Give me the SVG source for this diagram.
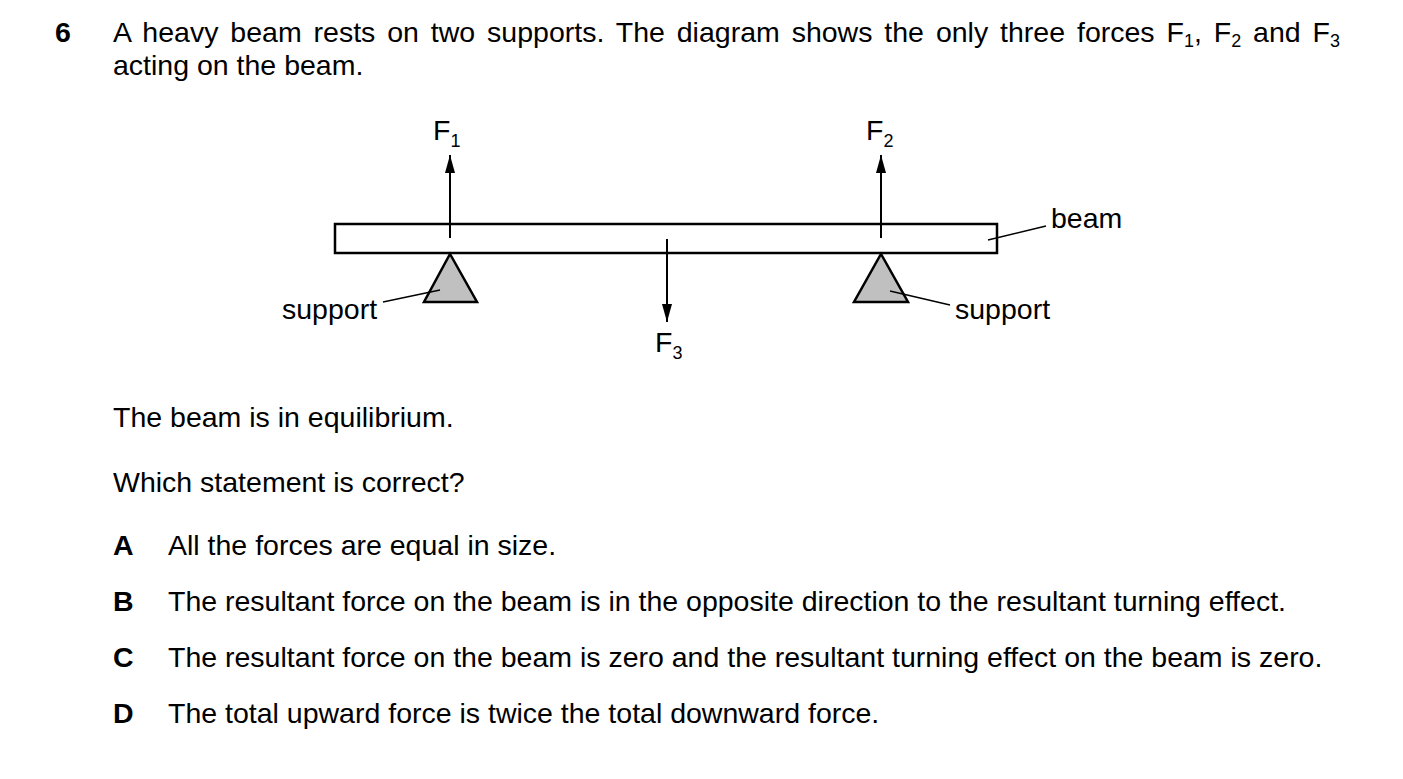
<svg xmlns="http://www.w3.org/2000/svg" width="1403" height="779" viewBox="0 0 1403 779">
<style>
text{font-family:"Liberation Sans",Arial,sans-serif;font-size:28.5px;fill:#000}
.b{font-weight:bold}
.s{font-size:18px}
.ln{stroke:#000;stroke-width:1.5;fill:none}
.ar{stroke:#000;stroke-width:2;fill:none}
.sup{fill:#c0c0c0;stroke:#000;stroke-width:2.5}
</style>
<defs><marker id="ah" markerWidth="19" markerHeight="10" refX="18" refY="5" orient="auto" markerUnits="userSpaceOnUse" viewBox="0 0 19 10"><path d="M0,0 L18,5 L0,10 Z" fill="#000"/></marker></defs>
<rect width="1403" height="779" fill="#fff"/>
<text class="b" x="55" y="42">6</text>
<text x="113" y="42" word-spacing="4">A heavy beam rests on two supports. The diagram shows the only three forces F<tspan class="s" dy="5">1</tspan><tspan dy="-5">, F</tspan><tspan class="s" dy="5">2</tspan><tspan dy="-5"> and F</tspan><tspan class="s" dy="5">3</tspan></text>
<text x="113" y="75">acting on the beam.</text>
<g id="beam"><rect x="335" y="224" width="662" height="29" fill="#fff" stroke="#000" stroke-width="2.5"/></g>
<g id="support-left"><path class="sup" d="M450,254 L477,302 L424,302 Z"/></g>
<g id="support-right"><path class="sup" d="M881,254 L908,302 L854,302 Z"/></g>
<g id="connectors">
<line class="ar" x1="450" y1="238" x2="450" y2="155" marker-end="url(#ah)"/>
<line class="ar" x1="881" y1="238" x2="881" y2="155" marker-end="url(#ah)"/>
<line class="ar" x1="667" y1="239" x2="667" y2="322" marker-end="url(#ah)"/>
<line class="ln" x1="383" y1="302" x2="440" y2="290"/>
<line class="ln" x1="950" y1="305" x2="890" y2="291"/>
<line class="ln" x1="988" y1="240" x2="1046" y2="226"/>
</g>
<g id="labels">
<text x="433" y="140">F<tspan class="s" dy="7">1</tspan></text>
<text x="866" y="140">F<tspan class="s" dy="7">2</tspan></text>
<text x="655" y="352">F<tspan class="s" dy="7">3</tspan></text>
<text x="1051" y="228">beam</text>
<text x="282" y="319">support</text>
<text x="955" y="319">support</text>
</g>
<text x="113" y="427">The beam is in equilibrium.</text>
<text x="113" y="492">Which statement is correct?</text>
<text class="b" x="113" y="555">A</text><text x="168" y="555">All the forces are equal in size.</text>
<text class="b" x="113" y="611">B</text><text x="168" y="611">The resultant force on the beam is in the opposite direction to the resultant turning effect.</text>
<text class="b" x="113" y="667">C</text><text x="168" y="667">The resultant force on the beam is zero and the resultant turning effect on the beam is zero.</text>
<text class="b" x="113" y="723">D</text><text x="168" y="723">The total upward force is twice the total downward force.</text>
</svg>
